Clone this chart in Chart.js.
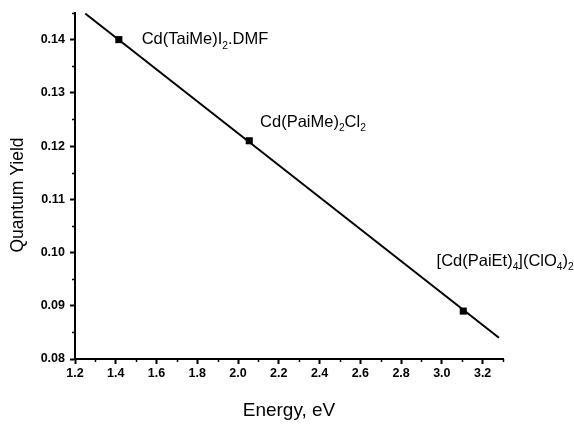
<!DOCTYPE html>
<html>
<head>
<meta charset="utf-8">
<script src="https://cdn.jsdelivr.net/npm/chart.js@4.4.1/dist/chart.umd.min.js"></script>
<style>
  html, body { margin: 0; padding: 0; background: #fff; }
  #wrap { width: 574px; height: 424px; }
</style>
</head>
<body>
<div id="wrap"><canvas id="qyChart" width="574" height="424"></canvas></div>
<script>
// data
const energy = [1.415, 2.055, 3.105];
const yieldQ = [0.140, 0.121, 0.089];
const compounds = ['Cd(TaiMe)I_2.DMF', 'Cd(PaiMe)_2Cl_2', '[Cd(PaiEt)_4](ClO_4)_2'];
// linear fit line end points
const fitX = [1.25, 3.28];
const fitY = [0.1449, 0.0840];
const xTicks = [1.2, 1.4, 1.6, 1.8, 2.0, 2.2, 2.4, 2.6, 2.8, 3.0, 3.2];
const yTicks = [0.08, 0.09, 0.10, 0.11, 0.12, 0.13, 0.14];
// label anchor (data units) for each compound
const labelX = [1.527, 2.108, 2.974];
const labelY = [0.1400, 0.1245, 0.0984];

const FONT = "'Liberation Sans', Arial, sans-serif";

// draws text where _n means subscript digit(s)
function richText(ctx, str, x, y, size) {
  const parts = str.split(/(_\d+)/).filter(p => p);
  let cx = x;
  parts.forEach(p => {
    if (p[0] === '_') {
      ctx.font = (size * 0.62) + 'px ' + FONT;
      ctx.fillText(p.slice(1), cx, y + size * 0.38);
      cx += ctx.measureText(p.slice(1)).width;
    } else {
      ctx.font = size + 'px ' + FONT;
      ctx.fillText(p, cx, y);
      cx += ctx.measureText(p).width;
    }
  });
}

const extras = {
  id: 'extras',
  afterDraw(chart) {
    const { ctx, scales: { x, y } } = chart;
    ctx.save();
    // minor ticks
    ctx.strokeStyle = '#000';
    ctx.lineWidth = 1.5;
    for (let v = 1.3; v <= 3.31; v += 0.2) {
      const px = Math.round(x.getPixelForValue(v)) + 0.5;
      ctx.beginPath(); ctx.moveTo(px, y.bottom); ctx.lineTo(px, y.bottom + 3); ctx.stroke();
    }
    for (let v = 0.085; v <= 0.1451; v += 0.01) {
      const py = Math.round(y.getPixelForValue(v)) + 0.5;
      ctx.beginPath(); ctx.moveTo(x.left, py); ctx.lineTo(x.left - 3, py); ctx.stroke();
    }
    // compound labels
    ctx.fillStyle = '#000';
    ctx.textBaseline = 'middle';
    ctx.textAlign = 'left';
    compounds.forEach((c, i) => {
      richText(ctx, c, x.getPixelForValue(labelX[i]), y.getPixelForValue(labelY[i]), 16.5);
    });
    // axis titles
    ctx.textAlign = 'center';
    ctx.font = '19px ' + FONT;
    ctx.fillText('Energy, eV', (x.left + x.right) / 2, 411);
    ctx.font = '17.5px ' + FONT;
    ctx.translate(18, 195);
    ctx.rotate(-Math.PI / 2);
    ctx.fillText('Quantum Yield', 0, 0);
    ctx.restore();
  }
};

new Chart(document.getElementById('qyChart'), {
  type: 'scatter',
  data: {
    datasets: [
      {
        label: 'fit',
        data: fitX.map((v, i) => ({ x: v, y: fitY[i] })),
        showLine: true, borderColor: '#000', borderWidth: 2, pointRadius: 0
      },
      {
        label: 'Quantum Yield',
        data: energy.map((v, i) => ({ x: v, y: yieldQ[i] })),
        pointStyle: 'rect', pointRadius: 5, backgroundColor: '#000', borderColor: '#000', borderWidth: 0
      }
    ]
  },
  options: {
    responsive: false,
    animation: false,
    layout: { padding: { top: 13, right: 71, left: 0, bottom: 0 } },
    plugins: { legend: { display: false }, tooltip: { enabled: false } },
    scales: {
      x: {
        min: 1.2, max: 3.3,
        afterBuildTicks: s => { s.ticks = xTicks.map(v => ({ value: v })); },
        afterFit: s => { s.height = 65; },
        border: { color: '#000', width: 2 },
        grid: { drawOnChartArea: false, color: '#000', tickLength: 5, tickWidth: 2 },
        ticks: { color: '#000', padding: 2, maxRotation: 0, font: { family: FONT, size: 12.5, weight: 'bold' }, callback: v => v.toFixed(1) }
      },
      y: {
        min: 0.08, max: 0.145,
        afterBuildTicks: s => { s.ticks = yTicks.map(v => ({ value: v })); },
        afterFit: s => { s.width = 75; },
        border: { color: '#000', width: 2 },
        grid: { drawOnChartArea: false, color: '#000', tickLength: 5, tickWidth: 2 },
        ticks: { color: '#000', padding: 5, font: { family: FONT, size: 12.5, weight: 'bold' }, callback: v => v.toFixed(2) }
      }
    }
  },
  plugins: [extras]
});
</script>
</body>
</html>
